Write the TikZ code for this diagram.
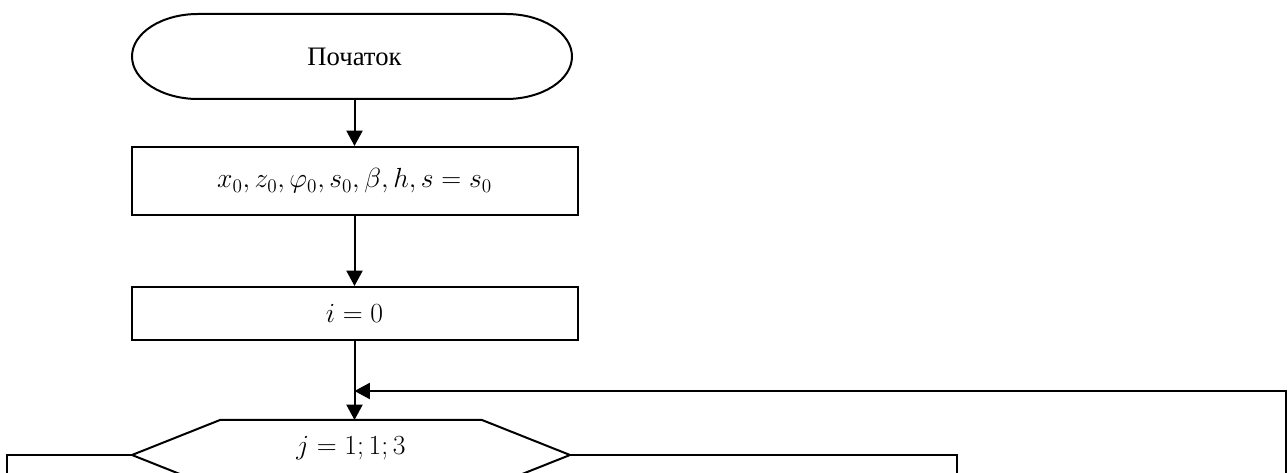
\documentclass[tikz,border=0pt]{standalone}
\usepackage{fontspec}
\setmainfont{Liberation Serif}
\usetikzlibrary{arrows.meta}
\begin{document}
\begin{tikzpicture}[x=0.75pt,y=-0.75pt,
  line width=1.5pt,
  flow/.style={-{Triangle[length=11.5pt,width=12pt]}},
  procbox/.style={draw,rectangle,minimum width=334.5pt,minimum height=#1,inner sep=0pt,
    font=\fontsize{20}{24}\selectfont},
  lbl/.style={inner sep=0pt,font=\fontsize{20}{24}\selectfont}]
\useasboundingbox (0,0) rectangle (1288,473);
\clip (0,0) rectangle (1288,473);
\fill[white] (0,0) rectangle (1288,473);
% terminator
\draw (198,14) -- (506,14) arc[start angle=-90,end angle=90,x radius=66,y radius=42.5] -- (198,99)
  arc[start angle=90,end angle=270,x radius=66,y radius=42.5] -- cycle;
\node[lbl,minimum width=334.5pt,minimum height=63.75pt] (start) at (354.5,56.5) {Початок};
% boxes
\node[procbox=51pt] (inp) at (354.5,181) {$x_0, z_0, \varphi_0, s_0, \beta, h, s = s_0$};
\node[procbox=39.75pt] (init) at (354.5,313.5) {$i = 0$};
% hexagon
\coordinate (hl) at (132,455);
\coordinate (hr) at (570,455);
\coordinate (ht) at (354.5,420);
\draw (hl) -- (220,420) -- (482,420) -- (hr) -- (482,490) -- (220,490) -- cycle;
\node[lbl] (loop) at (351,448) {$j = 1; 1; 3$};
% connectors
\draw[flow] (start.south) -- (inp.north);
\draw[flow] (inp.south) -- (init.north);
\draw[flow] (init.south) -- (ht);
\coordinate (retR) at (1286,391);
\coordinate (retB) at (1286,480);
\coordinate (retL) at (init.south |- retR);
\draw[flow] (retB) -- (retR) -- (retL);
\coordinate (lc) at (7,455);
\coordinate (lb) at (7,480);
\draw (hl) -- (lc) -- (lb);
\coordinate (rc) at (957,455);
\coordinate (rb) at (957,480);
\draw (hr) -- (rc) -- (rb);
\end{tikzpicture}
\end{document}
